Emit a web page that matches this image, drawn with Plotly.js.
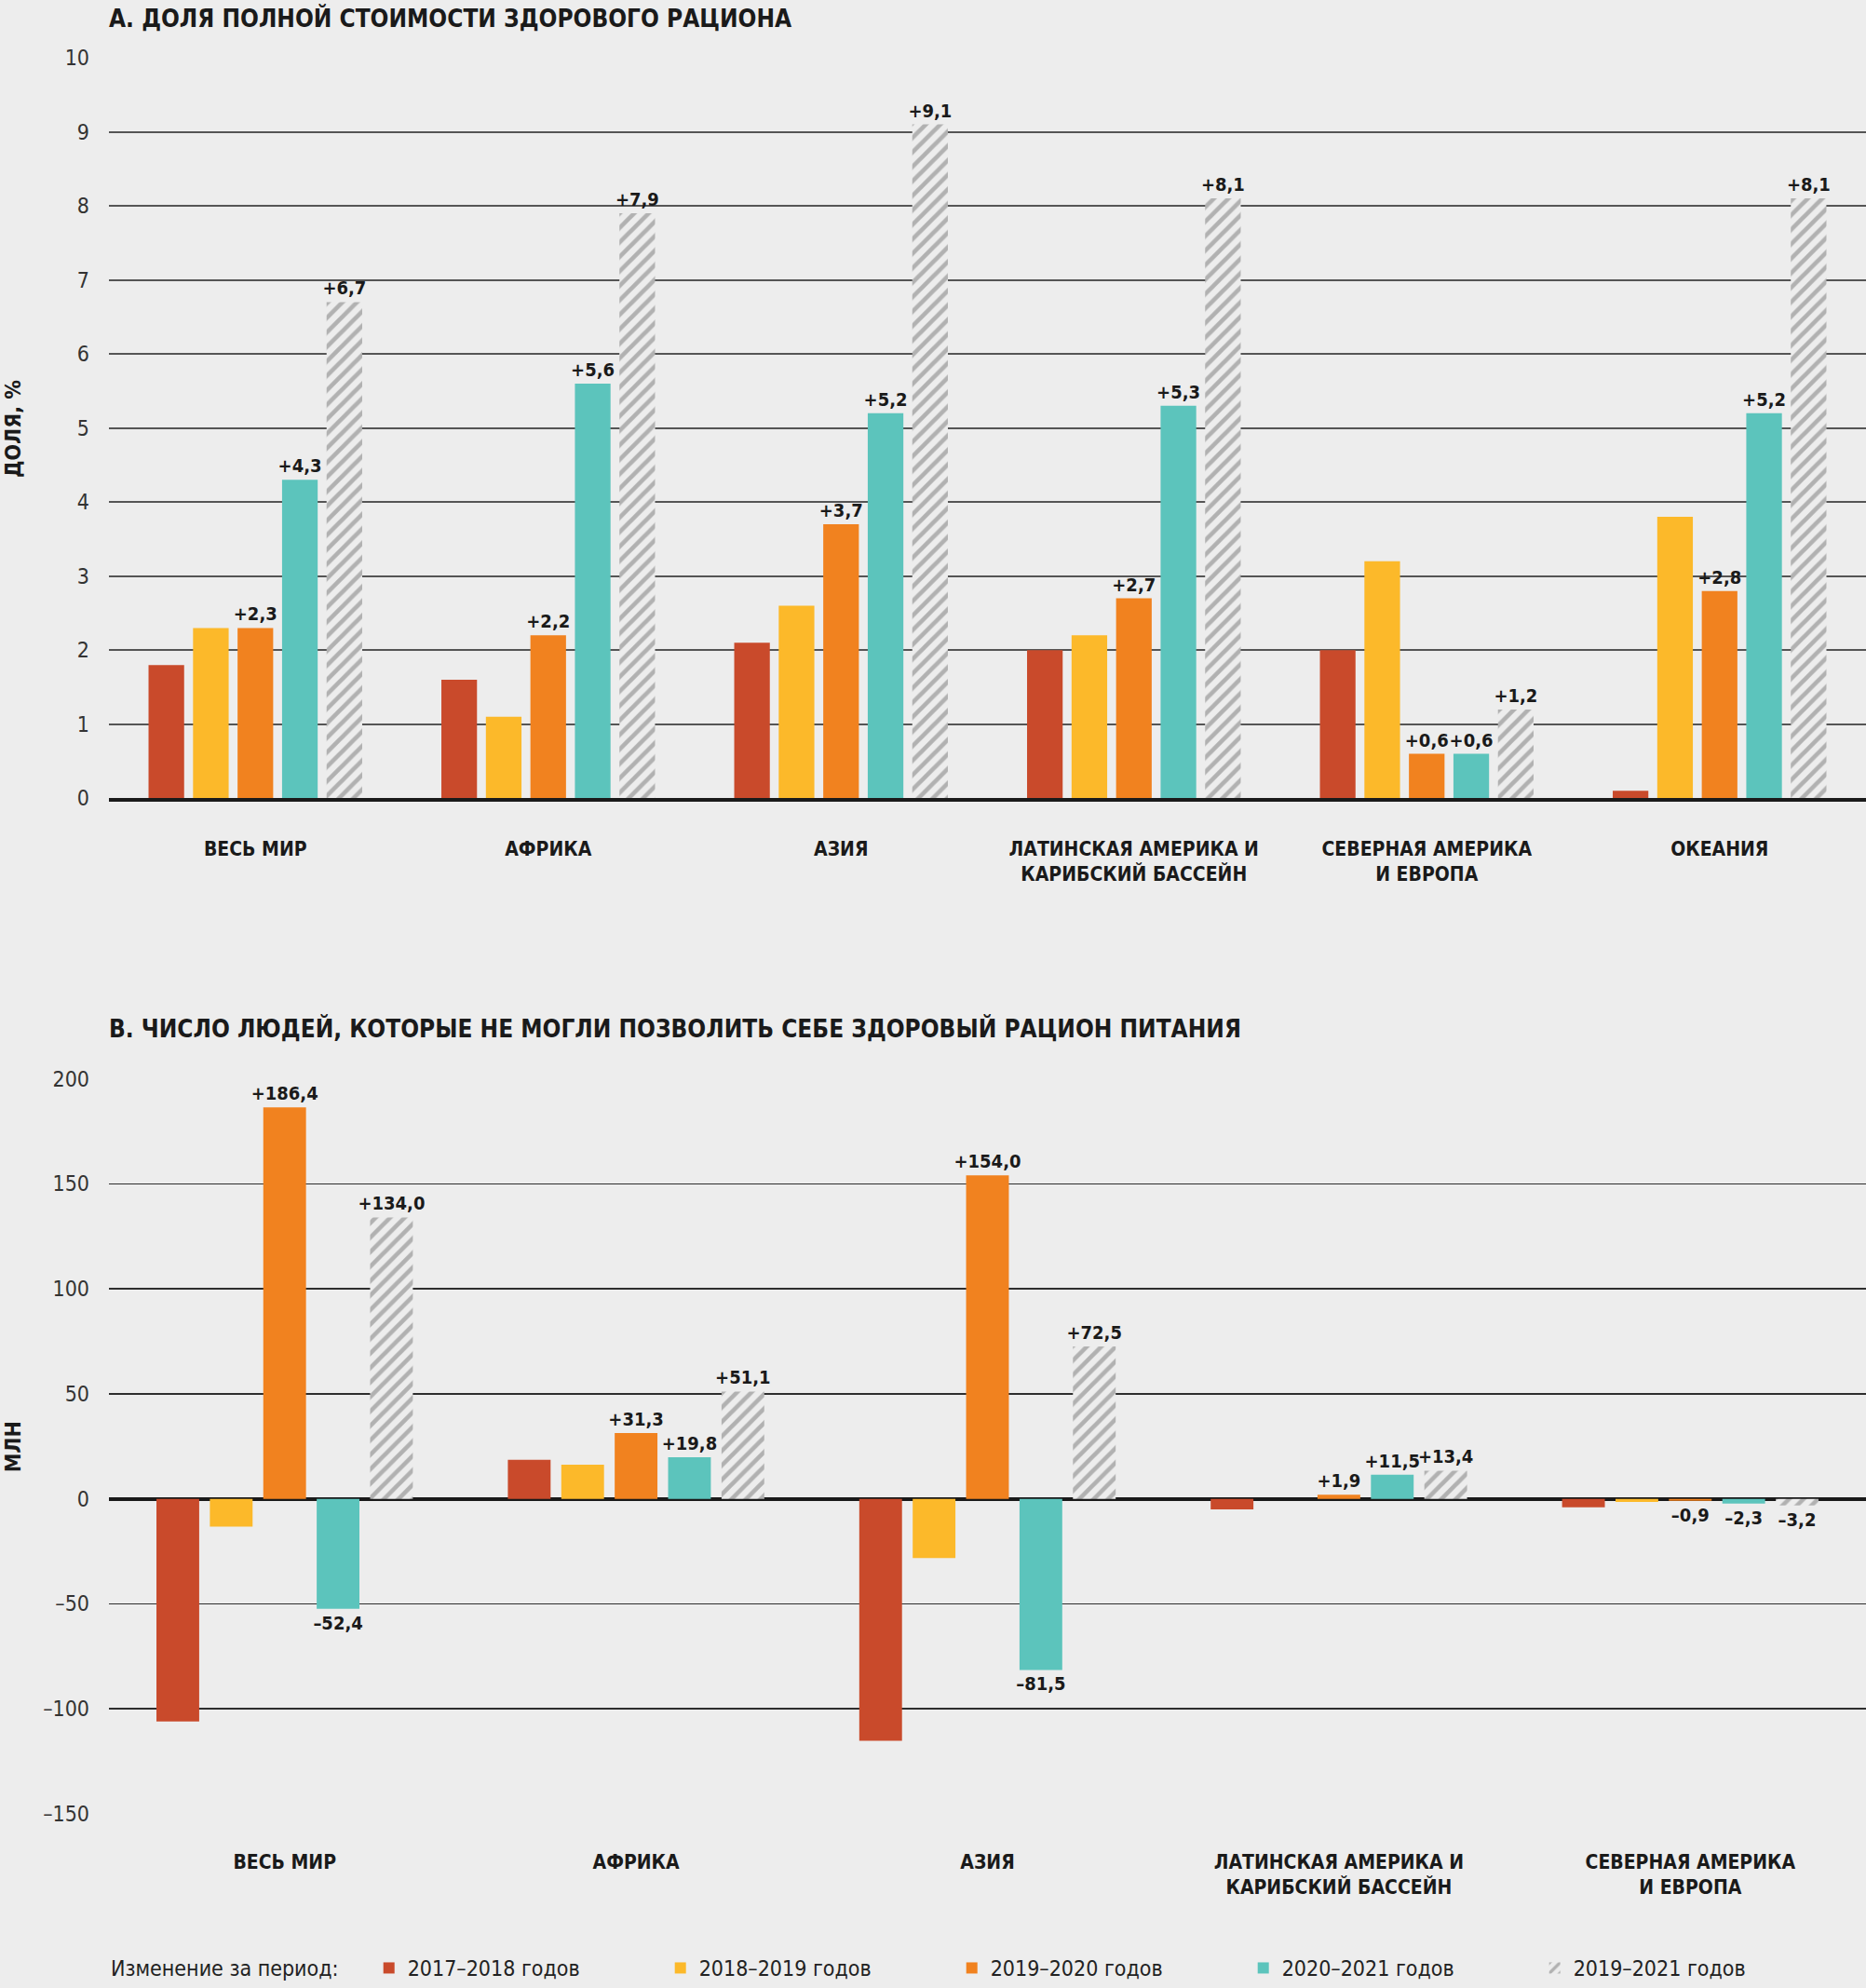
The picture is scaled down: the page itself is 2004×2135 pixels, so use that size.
<!DOCTYPE html>
<html>
<head>
<meta charset="utf-8">
<script src="https://cdn.plot.ly/plotly-3.0.1.min.js"></script>
<style>
  html, body { margin: 0; padding: 0; background: #ededed; }
  #chart { width: 2004px; height: 2135px; }
</style>
</head>
<body>
<div id="chart"></div>
<script>
// ---- Data ----
const categoriesA = ['ВЕСЬ МИР', 'АФРИКА', 'АЗИЯ', 'ЛАТИНСКАЯ АМЕРИКА И<br>КАРИБСКИЙ БАССЕЙН', 'СЕВЕРНАЯ АМЕРИКА<br>И ЕВРОПА', 'ОКЕАНИЯ'];
const categoriesB = ['ВЕСЬ МИР', 'АФРИКА', 'АЗИЯ', 'ЛАТИНСКАЯ АМЕРИКА И<br>КАРИБСКИЙ БАССЕЙН', 'СЕВЕРНАЯ АМЕРИКА<br>И ЕВРОПА'];
const seriesNames = ['2017–2018 годов', '2018–2019 годов', '2019–2020 годов', '2020–2021 годов', '2019–2021 годов'];

// Panel A: share of full cost of healthy diet, %
const shareA_2017_2018 = [1.8, 1.6, 2.1, 2.0, 2.0, 0.1];
const shareA_2018_2019 = [2.3, 1.1, 2.6, 2.2, 3.2, 3.8];
const shareA_2019_2020 = [2.3, 2.2, 3.7, 2.7, 0.6, 2.8];
const shareA_2020_2021 = [4.3, 5.6, 5.2, 5.3, 0.6, 5.2];
const shareA_2019_2021 = [6.7, 7.9, 9.1, 8.1, 1.2, 8.1];

// Panel B: number of people unable to afford a healthy diet, million
const peopleB_2017_2018 = [-106.0, 18.6, -115.2, -5.0, -4.0];
const peopleB_2018_2019 = [-13.2, 16.2, -28.2, 0.0, -1.5];
const peopleB_2019_2020 = [186.4, 31.3, 154.0, 1.9, -0.9];
const peopleB_2020_2021 = [-52.4, 19.8, -81.5, 11.5, -2.3];
const peopleB_2019_2021 = [134.0, 51.1, 72.5, 13.4, -3.2];

const labelledSeries = [false, false, true, true, true];

const yTicksA = [0, 1, 2, 3, 4, 5, 6, 7, 8, 9, 10];
const yTicksB = [-150, -100, -50, 0, 50, 100, 150, 200];
const yTickTextB = ['–150', '–100', '–50', '0', '50', '100', '150', '200'];

// ---- Styles ----
const BG = '#ededed';
const colors = ['#c94a2b', '#fcb92a', '#f1821f', '#5cc4bc', BG];
const HATCH = '#b1b1b1';
const FONT = "'DejaVu Sans Condensed', 'Liberation Sans Narrow', 'Arial Narrow', sans-serif";

function fmt(v) {
  return (v >= 0 ? '+' : '–') + Math.abs(v).toFixed(1).replace('.', ',');
}

const seriesA = [shareA_2017_2018, shareA_2018_2019, shareA_2019_2020, shareA_2020_2021, shareA_2019_2021];
const seriesB = [peopleB_2017_2018, peopleB_2018_2019, peopleB_2019_2020, peopleB_2020_2021, peopleB_2019_2021];

function makeTrace(cats, vals, i, xa, ya, showLegend) {
  const t = {
    type: 'bar',
    name: seriesNames[i],
    x: cats,
    y: vals,
    xaxis: xa,
    yaxis: ya,
    showlegend: showLegend,
    legendgroup: 'g' + i,
    marker: { color: colors[i], line: { width: 0 } },
    cliponaxis: false,
    constraintext: 'none',
    textposition: 'outside',
    textfont: { family: FONT, size: 20, color: '#1a1a1a', weight: 'bold' },
    hoverinfo: 'skip'
  };
  if (i === 4) {
    t.marker.pattern = { shape: '/', fgcolor: HATCH, bgcolor: BG, size: 11, solidity: 0.42 };
  }
  if (labelledSeries[i]) {
    t.text = vals.map(fmt);
  }
  return t;
}

const traces = [];
seriesA.forEach((vals, i) => traces.push(makeTrace(categoriesA, vals, i, 'x', 'y', true)));
seriesB.forEach((vals, i) => traces.push(makeTrace(categoriesB, vals, i, 'x2', 'y2', false)));

const tickFont = { family: FONT, size: 23, color: '#333333' };
const catFont = { family: FONT, size: 21, color: '#1a1a1a', weight: 'bold' };

const layout = {
  width: 2004,
  height: 2135,
  paper_bgcolor: BG,
  plot_bgcolor: BG,
  margin: { l: 117, r: 0, t: 62, b: 176 },
  barmode: 'group',
  bargap: 0.24,
  bargroupgap: 0.2,
  font: { family: FONT, color: '#1a1a1a' },
  xaxis: {
    domain: [0, 1], anchor: 'y', type: 'category',
    showline: true, linecolor: '#1a1a1a', linewidth: 4,
    showgrid: false, ticks: '', tickfont: catFont, ticklabelstandoff: 32,
    fixedrange: true
  },
  yaxis: {
    domain: [0.5783, 1], anchor: 'x', range: [0, 10],
    tickvals: yTicksA, ticktext: yTicksA.map(String),
    showgrid: true, gridcolor: '#555555', gridwidth: 2,
    zeroline: false, showline: false, ticks: '',
    tickfont: tickFont, ticklabelstandoff: 20, fixedrange: true
  },
  xaxis2: {
    domain: [0, 1], anchor: 'y2', type: 'category',
    showline: false, showgrid: false, ticks: '', tickfont: catFont,
    ticklabelstandoff: 37, fixedrange: true
  },
  yaxis2: {
    domain: [0, 0.4186], anchor: 'x2', range: [-150, 200],
    tickvals: yTicksB, ticktext: yTickTextB,
    showgrid: true, gridcolor: '#2e2e2e', gridwidth: 1.5,
    zeroline: true, zerolinecolor: '#1a1a1a', zerolinewidth: 4,
    showline: false, ticks: '',
    tickfont: tickFont, ticklabelstandoff: 20, fixedrange: true
  },
  legend: {
    orientation: 'h',
    x: 0, xanchor: 'left',
    y: -0.088, yanchor: 'middle',
    bgcolor: 'rgba(0,0,0,0)',
    font: { family: FONT, size: 23, color: '#222222' },
    title: { text: 'Изменение за период:    ', side: 'left', font: { family: FONT, size: 23, color: '#222222' } },
    entrywidth: 268, entrywidthmode: 'pixels',
    traceorder: 'normal',
    itemclick: false, itemdoubleclick: false
  },
  annotations: [
    {
      text: 'А. ДОЛЯ ПОЛНОЙ СТОИМОСТИ ЗДОРОВОГО РАЦИОНА',
      xref: 'paper', yref: 'paper', x: -0.001, y: 1.0227,
      xanchor: 'left', yanchor: 'middle', showarrow: false,
      font: { family: FONT, size: 26, color: '#1a1a1a', weight: 'bold' }
    },
    {
      text: 'В. ЧИСЛО ЛЮДЕЙ, КОТОРЫЕ НЕ МОГЛИ ПОЗВОЛИТЬ СЕБЕ ЗДОРОВЫЙ РАЦИОН ПИТАНИЯ',
      xref: 'paper', yref: 'paper', x: -0.001, y: 0.447,
      xanchor: 'left', yanchor: 'middle', showarrow: false,
      font: { family: FONT, size: 26, color: '#1a1a1a', weight: 'bold' }
    },
    {
      text: 'ДОЛЯ, %',
      xref: 'paper', yref: 'paper', x: -0.0546, y: 0.789,
      xanchor: 'center', yanchor: 'middle', textangle: -90, showarrow: false,
      font: { family: FONT, size: 23, color: '#1a1a1a', weight: 'bold' }
    },
    {
      text: 'МЛН',
      xref: 'paper', yref: 'paper', x: -0.0546, y: 0.2093,
      xanchor: 'center', yanchor: 'middle', textangle: -90, showarrow: false,
      font: { family: FONT, size: 23, color: '#1a1a1a', weight: 'bold' }
    }
  ]
};

Plotly.newPlot('chart', traces, layout, { staticPlot: true, responsive: false });
</script>
</body>
</html>
